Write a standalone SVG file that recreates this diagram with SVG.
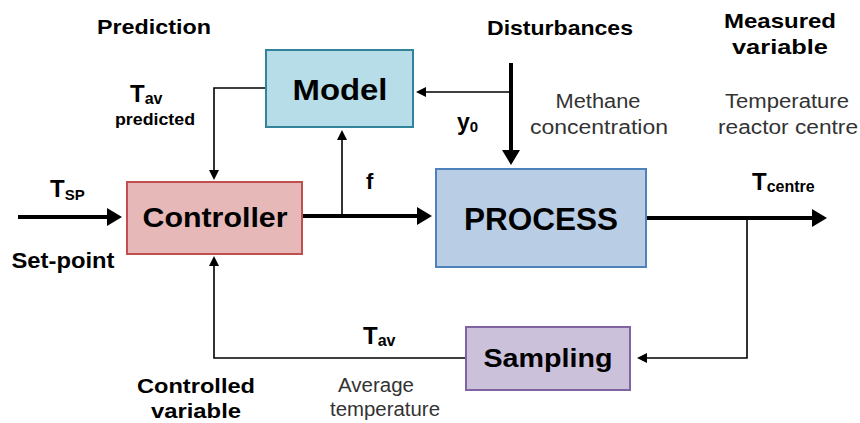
<svg xmlns="http://www.w3.org/2000/svg" width="860" height="423" viewBox="0 0 860 423">
<style>
.b{font-family:"Liberation Sans",Arial,sans-serif;font-weight:bold;fill:#000}
.r{font-family:"Liberation Sans",Arial,sans-serif;fill:#333}
.thick{stroke:#000;stroke-width:4;fill:none}
.thin{stroke:#000;stroke-width:1.6;fill:none}
.box{stroke-width:2}
</style>
<defs>
<marker id="ah" markerUnits="userSpaceOnUse" markerWidth="15" markerHeight="18" refX="4" refY="9" orient="auto">
<path d="M0,0 L15,9 L0,18 z" fill="#000"/>
</marker>
<marker id="at" markerUnits="userSpaceOnUse" markerWidth="10" markerHeight="10" refX="2" refY="5" orient="auto">
<path d="M0,0 L10,5 L0,10 z" fill="#000"/>
</marker>
</defs>
<rect width="860" height="423" fill="#fff"/>
<g id="connectors">
<path class="thick" d="M18,217 H111" marker-end="url(#ah)"/>
<path class="thick" d="M302,216 H421" marker-end="url(#ah)"/>
<path class="thick" d="M646,218 H816" marker-end="url(#ah)"/>
<path class="thick" d="M511,63 V154" marker-end="url(#ah)"/>
<path class="thin" d="M266,88 H214 V172" marker-end="url(#at)"/>
<path class="thin" d="M342,216 V138" marker-end="url(#at)"/>
<path class="thin" d="M511,92 H424" marker-end="url(#at)"/>
<path class="thin" d="M747,218 V358 H645" marker-end="url(#at)"/>
<path class="thin" d="M466,358 H214 V264" marker-end="url(#at)"/>
</g>
<g id="model">
<rect class="box" x="266" y="50" width="147" height="77" fill="#b7dde8" stroke="#31849b"/>
<text class="b" x="340" y="100" font-size="29" text-anchor="middle" textLength="95" lengthAdjust="spacingAndGlyphs">Model</text>
</g>
<g id="controller">
<rect class="box" x="127" y="182" width="175" height="72" fill="#e6b9b8" stroke="#c0504d"/>
<text class="b" x="215" y="227" font-size="28" text-anchor="middle" textLength="145" lengthAdjust="spacingAndGlyphs">Controller</text>
</g>
<g id="process">
<rect class="box" x="436" y="169" width="210" height="98" fill="#b9cde5" stroke="#4f81bd"/>
<text class="b" x="541" y="230" font-size="32" text-anchor="middle" textLength="154" lengthAdjust="spacingAndGlyphs">PROCESS</text>
</g>
<g id="sampling">
<rect class="box" x="466" y="327" width="164" height="63" fill="#ccc1da" stroke="#8064a2"/>
<text class="b" x="548" y="367" font-size="26" text-anchor="middle" textLength="129" lengthAdjust="spacingAndGlyphs">Sampling</text>
</g>
<g id="labels">
<text class="b" x="154" y="34" font-size="21" text-anchor="middle" textLength="114" lengthAdjust="spacingAndGlyphs">Prediction</text>
<text class="b" x="560" y="35" font-size="21" text-anchor="middle" textLength="146" lengthAdjust="spacingAndGlyphs">Disturbances</text>
<text class="b" x="780" y="28" font-size="21" text-anchor="middle" textLength="112" lengthAdjust="spacingAndGlyphs">Measured</text>
<text class="b" x="780" y="54" font-size="21" text-anchor="middle" textLength="96" lengthAdjust="spacingAndGlyphs">variable</text>
<text class="r" x="598" y="108" font-size="20" text-anchor="middle" textLength="85" lengthAdjust="spacingAndGlyphs">Methane</text>
<text class="r" x="599" y="134" font-size="20" text-anchor="middle" textLength="138" lengthAdjust="spacingAndGlyphs">concentration</text>
<text class="r" x="787" y="108" font-size="20" text-anchor="middle" textLength="124" lengthAdjust="spacingAndGlyphs">Temperature</text>
<text class="r" x="788" y="134" font-size="20" text-anchor="middle" textLength="140" lengthAdjust="spacingAndGlyphs">reactor centre</text>
<text class="b" x="130" y="102" font-size="24">T<tspan font-size="16" dy="2">av</tspan></text>
<text class="b" x="155" y="125" font-size="16" text-anchor="middle" textLength="80" lengthAdjust="spacingAndGlyphs">predicted</text>
<text class="b" x="50" y="197" font-size="24">T<tspan font-size="15" dy="3">SP</tspan></text>
<text class="b" x="63" y="268" font-size="22" text-anchor="middle" textLength="103" lengthAdjust="spacingAndGlyphs">Set-point</text>
<text class="b" x="366" y="189" font-size="22">f</text>
<text class="b" x="457" y="130" font-size="23">y<tspan font-size="15" dy="2">0</tspan></text>
<text class="b" x="752" y="190" font-size="24">T<tspan font-size="16" dy="2">centre</tspan></text>
<text class="b" x="363" y="344" font-size="24">T<tspan font-size="16" dy="2">av</tspan></text>
<text class="b" x="196" y="393" font-size="21" text-anchor="middle" textLength="118" lengthAdjust="spacingAndGlyphs">Controlled</text>
<text class="b" x="196" y="418" font-size="21" text-anchor="middle" textLength="90" lengthAdjust="spacingAndGlyphs">variable</text>
<text class="r" x="376" y="392" font-size="20" text-anchor="middle" textLength="76" lengthAdjust="spacingAndGlyphs">Average</text>
<text class="r" x="385" y="416" font-size="20" text-anchor="middle" textLength="110" lengthAdjust="spacingAndGlyphs">temperature</text>
</g>
</svg>
